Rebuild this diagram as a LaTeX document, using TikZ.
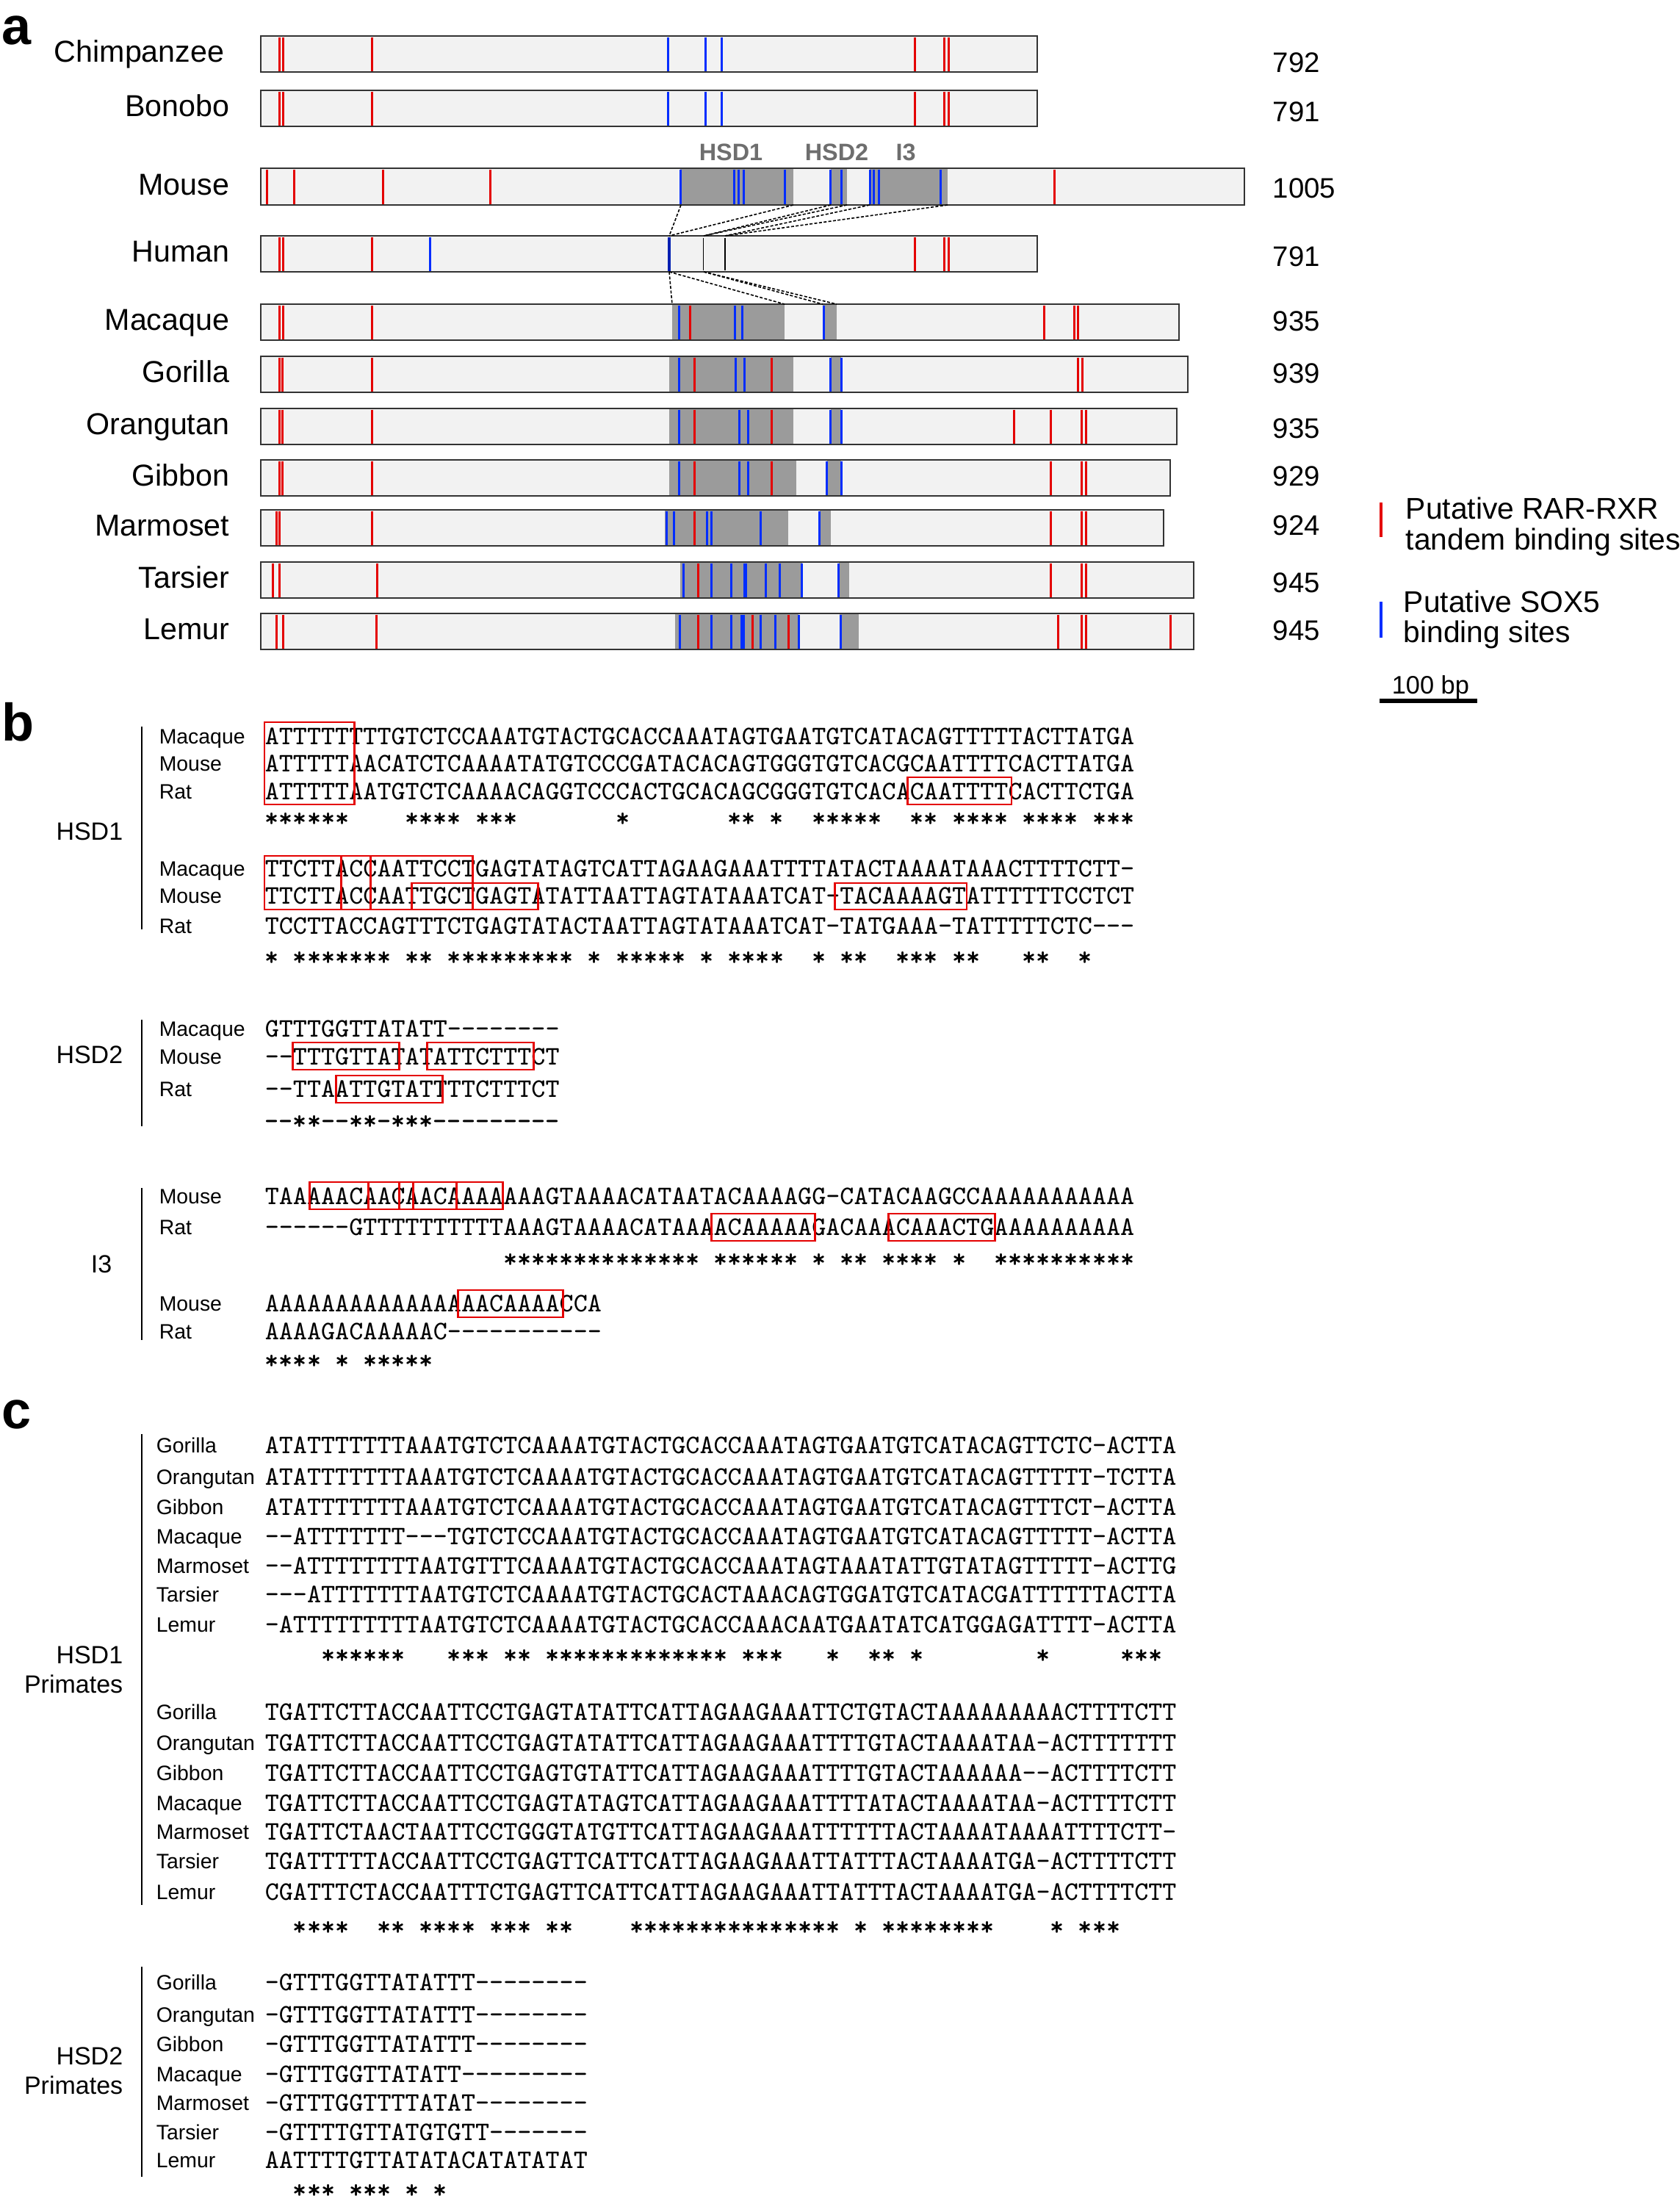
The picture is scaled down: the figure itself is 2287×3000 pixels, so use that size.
\documentclass[tikz,border=0pt]{standalone}
\usepackage{fontspec}
\setmainfont{Liberation Sans}
\definecolor{rr}{RGB}{228,0,0}
\definecolor{bb}{RGB}{0,45,255}
\definecolor{gb}{RGB}{155,155,155}
\definecolor{barf}{RGB}{242,242,242}
\definecolor{hsdg}{RGB}{110,110,110}
\ExplSyntaxOn
\tl_new:N \l_sqx_tl
\NewDocumentCommand \sq { m }
  {
    \tl_set:Nn \l_sqx_tl { #1 }
    \tl_replace_all:Nnn \l_sqx_tl { - } { \hbox{-} }
    \tl_replace_all:Nnn \l_sqx_tl { . } { \hbox{\phantom{A}} }
    \tl_use:N \l_sqx_tl
  }
\ExplSyntaxOff
\newcommand\seqrow[5]{%
  \node[rowlab] (#1l) at (#3,#4+10) {#2};
  \node[seqtxt] (#1s) at (360,#4+11) {\sq{#5}};}
\newcommand\starrow[3]{\node[startxt] (#1) at (360,#2+14) {\sq{#3}};}
\newcommand\mk[4]{\foreach \q in {#4}{\draw[#1] (\q,#2+1.5) -- (\q,#3-1.5);}}
\newcommand\gboxes[3]{\foreach \a/\b in {#3}{\fill[gb] (\a,#1) rectangle (\b,#2);}}
\begin{document}
\begin{tikzpicture}[x=0.25pt,y=-0.25pt,
  seqtxt/.style={font=\ttfamily\fontsize{9.09}{10}\selectfont,anchor=base west,inner sep=0pt},
  startxt/.style={font=\ttfamily\bfseries\fontsize{9.09}{10}\selectfont,anchor=base west,inner sep=0pt},
  rowlab/.style={font=\fontsize{7.1}{8}\selectfont,anchor=base west,inner sep=0pt},
  grplab/.style={font=\fontsize{8.5}{10}\selectfont,anchor=base east,inner sep=0pt},
  splab/.style={font=\fontsize{10.3}{12}\selectfont,anchor=base east,inner sep=0pt},
  numlab/.style={font=\fontsize{9.6}{11}\selectfont,anchor=base west,inner sep=0pt},
  panlab/.style={font=\bfseries\fontsize{18}{20}\selectfont,anchor=base west,inner sep=0pt},
  hsdlab/.style={font=\bfseries\fontsize{8.1}{10}\selectfont,text=hsdg,anchor=base,inner sep=0pt},
  leglab/.style={font=\fontsize{10.2}{12}\selectfont,anchor=base west,inner sep=0pt},
  rbox/.style={draw=rr,line width=0.7pt},
  vline/.style={line width=0.7pt},
  redmk/.style={draw=rr,line width=0.75pt},
  bluemk/.style={draw=bb,line width=0.75pt},
  blackmk/.style={draw=black,line width=0.35pt},
  barline/.style={draw=black!80,line width=0.5pt},
  conn/.style={line width=0.4pt,dash pattern=on 1pt off 0.6pt},
]
\useasboundingbox (0,0) rectangle (2287,3000);

% ---------------- panel a ----------------
\node[panlab] (pa) at (2,60) {a};
\node[splab] (sChimp) at (306,84) {Chimpanzee};
\node[splab] (sBonobo) at (313,158) {Bonobo};
\node[splab] (sMouse) at (313,265) {Mouse};
\node[splab] (sHuman) at (313,356) {Human};
\node[splab] (sMacaque) at (313,449) {Macaque};
\node[splab] (sGorilla) at (313,520) {Gorilla};
\node[splab] (sOrang) at (313,591) {Orangutan};
\node[splab] (sGibbon) at (313,661) {Gibbon};
\node[splab] (sMarm) at (313,729) {Marmoset};
\node[splab] (sTars) at (313,800) {Tarsier};
\node[splab] (sLemur) at (313,870) {Lemur};

\node[numlab] (n1) at (1732,98) {792};
\node[numlab] (n2) at (1732,165) {791};
\node[numlab] (n3) at (1732,269) {1005};
\node[numlab] (n4) at (1732,362) {791};
\node[numlab] (n5) at (1732,450) {935};
\node[numlab] (n6) at (1732,521) {939};
\node[numlab] (n7) at (1732,596) {935};
\node[numlab] (n8) at (1732,661) {929};
\node[numlab] (n9) at (1732,728) {924};
\node[numlab] (n10) at (1732,806) {945};
\node[numlab] (n11) at (1732,871) {945};

\node[hsdlab] (h1) at (995,218) {HSD1};
\node[hsdlab] (h2) at (1139,218) {HSD2};
\node[hsdlab] (h3) at (1233,218) {I3};

\begin{scope}[shift={(330,0)},xscale=0.89286]
% Chimpanzee
\fill[barf] (28,49) rectangle (1212,98);
\mk{redmk}{49}{98}{57,62,198,1025,1070,1077}
\mk{bluemk}{49}{98}{649,706,731}
\draw[barline] (28,49) rectangle (1212,98);
% Bonobo
\fill[barf] (28,123) rectangle (1212,172);
\mk{redmk}{123}{172}{57,62,198,1025,1070,1077}
\mk{bluemk}{123}{172}{649,706,731}
\draw[barline] (28,123) rectangle (1212,172);
% Mouse
\fill[barf] (28,229) rectangle (1528,279);
\gboxes{229}{279}{668/840,897/922,957/1075}
\mk{redmk}{229}{279}{37,79,214,378,1238}
\mk{bluemk}{229}{279}{668,750,757,764,827,897,913,957,963,970,1064}
\draw[barline] (28,229) rectangle (1528,279);
% Human
\fill[barf] (28,321) rectangle (1212,370);
\mk{redmk}{321}{370}{57,62,198,1025,1070,1077}
\mk{bluemk}{321}{370}{286}
\mk{blackmk}{322}{369}{703,736}
\draw[draw=bb!70!black,line width=1pt] (651,322.5) -- (651,368.5);
\draw[barline] (28,321) rectangle (1212,370);
% Macaque
\fill[barf] (28,414) rectangle (1428,463);
\gboxes{414}{463}{655/827,885/906}
\mk{redmk}{414}{463}{57,62,198,683,1222,1268,1274}
\mk{bluemk}{414}{463}{666,751,762,887}
\draw[barline] (28,414) rectangle (1428,463);
% Gorilla
\fill[barf] (28,485) rectangle (1441,534);
\gboxes{485}{534}{651/840,897/913}
\mk{redmk}{485}{534}{57,61,198,689,807,1274,1281}
\mk{bluemk}{485}{534}{666,752,765,897,913}
\draw[barline] (28,485) rectangle (1441,534);
% Orangutan
\fill[barf] (28,556) rectangle (1425,605);
\gboxes{556}{605}{651/840,897/913}
\mk{redmk}{556}{605}{57,61,198,689,807,1177,1232,1280,1286}
\mk{bluemk}{556}{605}{666,758,771,897,913}
\draw[barline] (28,556) rectangle (1425,605);
% Gibbon
\fill[barf] (28,626) rectangle (1415,675);
\gboxes{626}{675}{651/845,891/913}
\mk{redmk}{626}{675}{57,61,198,689,807,1232,1280,1286}
\mk{bluemk}{626}{675}{666,758,771,891,913}
\draw[barline] (28,626) rectangle (1415,675);
% Marmoset
\fill[barf] (28,694) rectangle (1405,743);
\gboxes{694}{743}{644/832,880/897}
\mk{redmk}{694}{743}{52,56,198,689,1232,1280,1286}
\mk{bluemk}{694}{743}{647,658,708,715,790,880}
\draw[barline] (28,694) rectangle (1405,743);
% Tarsier
\fill[barf] (28,765) rectangle (1450,814);
\gboxes{765}{814}{667/853,909/925}
\mk{redmk}{765}{814}{46,57,206,695,1232,1280,1286}
\mk{bluemk}{765}{814}{672,715,745,765,768,798,819,853,909}
\draw[barline] (28,765) rectangle (1450,814);
% Lemur
\fill[barf] (28,835) rectangle (1450,884);
\gboxes{835}{884}{660/848,911/940}
\mk{redmk}{835}{884}{52,62,204,695,778,833,1244,1280,1286,1415}
\mk{bluemk}{835}{884}{667,715,745,761,764,790,813,848,912}
\draw[barline] (28,835) rectangle (1450,884);
\end{scope}

% connectors mouse -> human -> macaque
\coordinate (mo1) at (927,279); \coordinate (mo2) at (1080,279);
\coordinate (mo3) at (1131,279); \coordinate (mo4) at (1153,279);
\coordinate (mo5) at (1184,279); \coordinate (mo6) at (1290,279);
\coordinate (hu1) at (911,321); \coordinate (hu2) at (958,321); \coordinate (hu3) at (987,321);
\draw[conn] (mo1) -- (hu1);
\draw[conn] (mo2) -- (hu1);
\draw[conn] (mo3) -- (hu2);
\draw[conn] (mo4) -- (hu2);
\draw[conn] (mo5) -- (hu3);
\draw[conn] (mo6) -- (hu3);
\coordinate (hb1) at (911,370); \coordinate (hb2) at (958,370);
\coordinate (ma1) at (915,414); \coordinate (ma2) at (1068,414);
\coordinate (ma3) at (1120,414); \coordinate (ma4) at (1139,414);
\draw[conn] (hb1) -- (ma1);
\draw[conn] (hb1) -- (ma2);
\draw[conn] (hb2) -- (ma3);
\draw[conn] (hb2) -- (ma4);

% legend
\coordinate (lr1) at (1880,684); \coordinate (lr2) at (1880,731);
\draw[redmk,line width=1pt] (lr1) -- (lr2);
\node[leglab] (l1) at (1913,706) {Putative RAR-RXR};
\node[leglab] (l2) at (1913,748) {tandem binding sites};
\coordinate (lb1) at (1880,819); \coordinate (lb2) at (1880,868);
\draw[bluemk,line width=1pt] (lb1) -- (lb2);
\node[leglab] (l3) at (1910,833) {Putative SOX5};
\node[leglab] (l4) at (1910,874) {binding sites};
\node[font=\fontsize{8.6}{10}\selectfont,anchor=base west,inner sep=0pt] (sb) at (1894,944) {100 bp};
\coordinate (sb1) at (1878,954); \coordinate (sb2) at (2011,954);
\draw[line width=1.4pt] (sb1) -- (sb2);

% ---------------- panel b ----------------
\node[panlab] (pb) at (2,1008) {b};
\node[grplab] (gb1) at (168,1143) {HSD1};
\node[grplab] (gb2) at (168,1447) {HSD2};
\node[grplab] (gb3) at (153,1732) {I3};
\draw[vline] (193,989) -- (193,1265);
\draw[vline] (193,1388) -- (193,1533);
\draw[vline] (193,1617) -- (193,1824);

\seqrow{bAa}{Macaque}{216}{1002}{ATTTTTTTTGTCTCCAAATGTACTGCACCAAATAGTGAATGTCATACAGTTTTTACTTATGA}
\seqrow{bAb}{Mouse}{216}{1039}{ATTTTTAACATCTCAAAATATGTCCCGATACACAGTGGGTGTCACGCAATTTTCACTTATGA}
\seqrow{bAc}{Rat}{216}{1077}{ATTTTTAATGTCTCAAAACAGGTCCCACTGCACAGCGGGTGTCACACAATTTTCACTTCTGA}
\starrow{bAs}{1111}{******....****.***.......*.......**.*..*****..**.****.****.***}

\seqrow{bBa}{Macaque}{216}{1182}{TTCTTACCAATTCCTGAGTATAGTCATTAGAAGAAATTTTATACTAAAATAAACTTTTCTT-}
\seqrow{bBb}{Mouse}{216}{1219}{TTCTTACCAATTGCTGAGTATATTAATTAGTATAAATCAT-TACAAAAGTATTTTTTCCTCT}
\seqrow{bBc}{Rat}{216}{1260}{TCCTTACCAGTTTCTGAGTATACTAATTAGTATAAATCAT-TATGAAA-TATTTTTCTC---}
\starrow{bBs}{1300}{*.*******.**.*********.*.*****.*.****..*.**..***.**...**..*}

\seqrow{bCa}{Macaque}{216}{1400}{GTTTGGTTATATT--------}
\seqrow{bCb}{Mouse}{216}{1438}{--TTTGTTATATATTCTTTCT}
\seqrow{bCc}{Rat}{216}{1482}{--TTAATTGTATTTTCTTTCT}
\starrow{bCs}{1523}{--**--**-***---------}

\seqrow{bDa}{Mouse}{216}{1628}{TAAAAACAACAACAAAAAAAGTAAAACATAATACAAAAGG-CATACAAGCCAAAAAAAAAAA}
\seqrow{bDb}{Rat}{216}{1670}{------GTTTTTTTTTTAAAGTAAAACATAAAACAAAAAGACAAACAAACTGAAAAAAAAAA}
\starrow{bDs}{1711}{.................**************.******.*.**.****.*..**********}

\seqrow{bEa}{Mouse}{216}{1774}{AAAAAAAAAAAAAAAACAAAACCA}
\seqrow{bEb}{Rat}{216}{1812}{AAAAGACAAAAAC-----------}
\starrow{bEs}{1849}{****.*.*****}

% red boxes
\draw[rbox] (360,983) rectangle (482.1,1095);
\draw[rbox] (1235.8,1058) rectangle (1377,1095);
\draw[rbox] (360,1165) rectangle (504.4,1238);
\draw[rbox] (464.4,1165) rectangle (643.5,1238);
\draw[rbox] (560.3,1202) rectangle (732.1,1238);
\draw[rbox] (1136.6,1202) rectangle (1316,1238);
\draw[rbox] (398.2,1419) rectangle (543.2,1456);
\draw[rbox] (581.3,1419) rectangle (726.3,1456);
\draw[rbox] (457.3,1464) rectangle (602.3,1501);
\draw[rbox] (421.1,1609) rectangle (543.2,1646);
\draw[rbox] (501.2,1609) rectangle (621.4,1646);
\draw[rbox] (562.2,1609) rectangle (684.4,1646);
\draw[rbox] (968.7,1652) rectangle (1109.8,1689);
\draw[rbox] (1209.1,1652) rectangle (1354.1,1689);
\draw[rbox] (623.3,1756) rectangle (766.4,1793);

% ---------------- panel c ----------------
\node[panlab] (pc) at (2,1944) {c};
\node[grplab] (gc1) at (168,2264) {HSD1};
\node[grplab] (gc2) at (168,2304) {Primates};
\node[grplab] (gc3) at (168,2810) {HSD2};
\node[grplab] (gc4) at (168,2850) {Primates};
\draw[vline] (193,1952) -- (193,2593);
\draw[vline] (193,2677) -- (193,2963);

\seqrow{cAa}{Gorilla}{212}{1967}{ATATTTTTTTAAATGTCTCAAAATGTACTGCACCAAATAGTGAATGTCATACAGTTCTC-ACTTA}
\seqrow{cAb}{Orangutan}{212}{2010}{ATATTTTTTTAAATGTCTCAAAATGTACTGCACCAAATAGTGAATGTCATACAGTTTTT-TCTTA}
\seqrow{cAc}{Gibbon}{212}{2051}{ATATTTTTTTAAATGTCTCAAAATGTACTGCACCAAATAGTGAATGTCATACAGTTTCT-ACTTA}
\seqrow{cAd}{Macaque}{212}{2091}{--ATTTTTTT---TGTCTCCAAATGTACTGCACCAAATAGTGAATGTCATACAGTTTTT-ACTTA}
\seqrow{cAe}{Marmoset}{212}{2131}{--ATTTTTTTTAATGTTTCAAAATGTACTGCACCAAATAGTAAATATTGTATAGTTTTT-ACTTG}
\seqrow{cAf}{Tarsier}{212}{2170}{---ATTTTTTTAATGTCTCAAAATGTACTGCACTAAACAGTGGATGTCATACGATTTTTTACTTA}
\seqrow{cAg}{Lemur}{212}{2211}{-ATTTTTTTTTAATGTCTCAAAATGTACTGCACCAAACAATGAATATCATGGAGATTTT-ACTTA}
\starrow{cAs}{2250}{....******...***.**.*************.***...*..**.*........*.....***}

\seqrow{cBa}{Gorilla}{212}{2330}{TGATTCTTACCAATTCCTGAGTATATTCATTAGAAGAAATTCTGTACTAAAAAAAAACTTTTCTT}
\seqrow{cBb}{Orangutan}{212}{2372}{TGATTCTTACCAATTCCTGAGTATATTCATTAGAAGAAATTTTGTACTAAAATAA-ACTTTTTTT}
\seqrow{cBc}{Gibbon}{212}{2413}{TGATTCTTACCAATTCCTGAGTGTATTCATTAGAAGAAATTTTGTACTAAAAAA--ACTTTTCTT}
\seqrow{cBd}{Macaque}{212}{2454}{TGATTCTTACCAATTCCTGAGTATAGTCATTAGAAGAAATTTTATACTAAAATAA-ACTTTTCTT}
\seqrow{cBe}{Marmoset}{212}{2493}{TGATTCTAACTAATTCCTGGGTATGTTCATTAGAAGAAATTTTTTACTAAAATAAAATTTTCTT-}
\seqrow{cBf}{Tarsier}{212}{2533}{TGATTTTTACCAATTCCTGAGTTCATTCATTAGAAGAAATTATTTACTAAAATGA-ACTTTTCTT}
\seqrow{cBg}{Lemur}{212}{2575}{CGATTTCTACCAATTTCTGAGTTCATTCATTAGAAGAAATTATTTACTAAAATGA-ACTTTTCTT}
\starrow{cBs}{2620}{..****..**.****.***.**....***************.*.********....*.***}

\seqrow{cCa}{Gorilla}{212}{2698}{-GTTTGGTTATATTT--------}
\seqrow{cCb}{Orangutan}{212}{2742}{-GTTTGGTTATATTT--------}
\seqrow{cCc}{Gibbon}{212}{2782}{-GTTTGGTTATATTT--------}
\seqrow{cCd}{Macaque}{212}{2823}{-GTTTGGTTATATT---------}
\seqrow{cCe}{Marmoset}{212}{2862}{-GTTTGGTTTTATAT--------}
\seqrow{cCf}{Tarsier}{212}{2902}{-GTTTTGTTATGTGTT-------}
\seqrow{cCg}{Lemur}{212}{2940}{AATTTTGTTATATACATATATAT}
\starrow{cCs}{2978}{..***.***.*.*}
\end{tikzpicture}
\end{document}
